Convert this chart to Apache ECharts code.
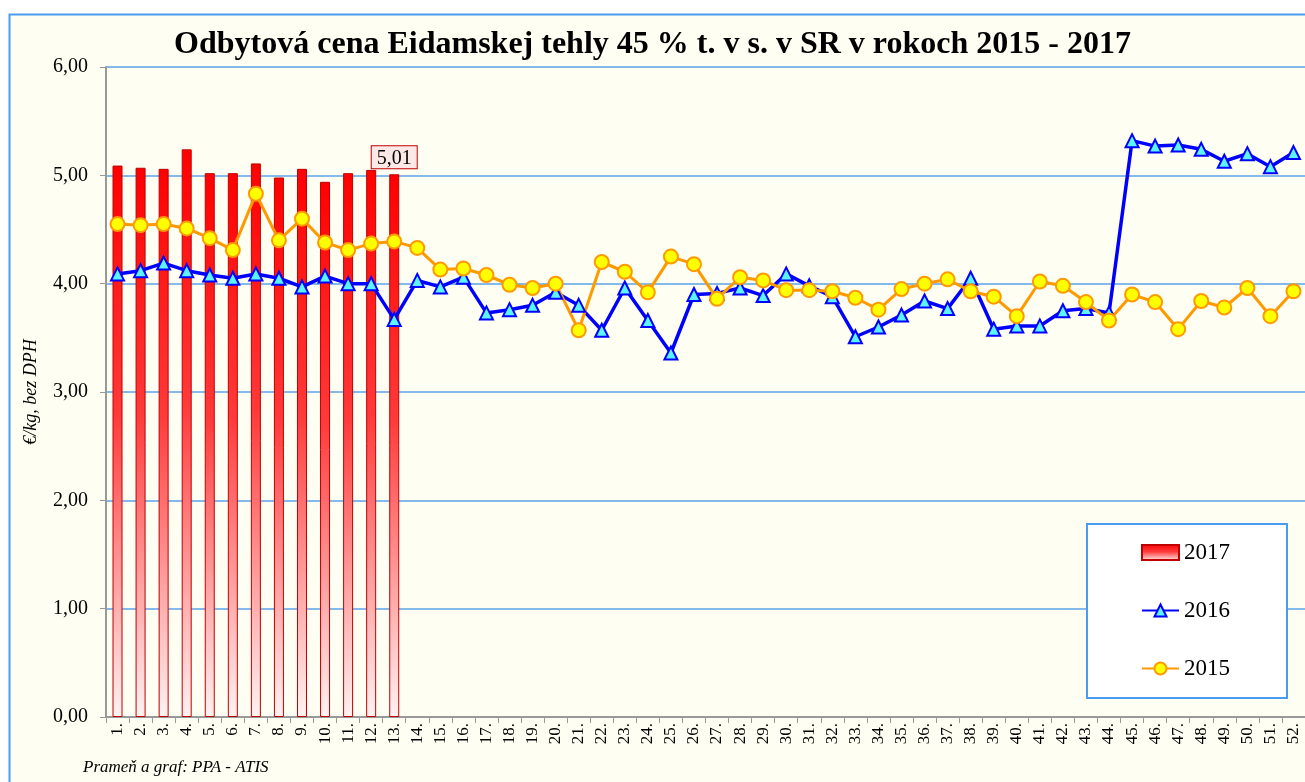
<!DOCTYPE html>
<html>
<head>
<meta charset="utf-8">
<title>Odbytová cena Eidamskej tehly</title>
<script src="https://cdn.jsdelivr.net/npm/echarts@6/dist/echarts.min.js"></script>
<style>
  html, body { margin: 0; padding: 0; background: #fff; }
  #chart { width: 1305px; height: 782px; }
</style>
</head>
<body>
<div id="chart"></div>
<script>
// Weekly data, €/kg without VAT
const weeks = Array.from({ length: 52 }, (_, i) => `${i + 1}.`);

const price2017 = [5.09, 5.07, 5.06, 5.24, 5.02, 5.02, 5.11, 4.98, 5.06, 4.94, 5.02, 5.05, 5.01];

const price2016 = [4.09, 4.12, 4.19, 4.12, 4.08, 4.05, 4.09, 4.05, 3.97, 4.07,
  4.00, 4.00, 3.67, 4.03, 3.97, 4.06, 3.73, 3.76, 3.80, 3.92,
  3.80, 3.57, 3.96, 3.66, 3.36, 3.90, 3.91, 3.96, 3.89, 4.09,
  3.98, 3.88, 3.51, 3.60, 3.71, 3.84, 3.77, 4.05, 3.58, 3.61,
  3.61, 3.75, 3.77, 3.73, 5.32, 5.27, 5.28, 5.24, 5.13, 5.20,
  5.08, 5.21];

const price2015 = [4.55, 4.54, 4.55, 4.51, 4.42, 4.31, 4.83, 4.40, 4.60, 4.38,
  4.31, 4.37, 4.39, 4.33, 4.13, 4.14, 4.08, 3.99, 3.96, 4.00,
  3.57, 4.20, 4.11, 3.92, 4.25, 4.18, 3.86, 4.06, 4.03, 3.94,
  3.94, 3.93, 3.87, 3.76, 3.95, 4.00, 4.04, 3.93, 3.88, 3.70,
  4.02, 3.98, 3.83, 3.66, 3.90, 3.83, 3.58, 3.84, 3.78, 3.96,
  3.70, 3.93];

const SERIF = "'Liberation Serif', 'Times New Roman', serif";
const fmt = v => v.toFixed(2).replace('.', ',');

// only the latest week gets a value label
const barData = price2017.map((v, i) => i === price2017.length - 1 ? {
  value: v,
  label: {
    show: true, position: 'top', distance: 6,
    formatter: p => fmt(p.value),
    fontFamily: SERIF, fontSize: 20, color: '#000',
    backgroundColor: '#fde8e8', borderColor: '#c00000', borderWidth: 1,
    padding: [2, 5, 0, 5]
  }
} : v);

const chart = echarts.init(document.getElementById('chart'), null, { renderer: 'canvas' });

chart.setOption({
  animation: false,
  backgroundColor: '#fff',
  graphic: [
    {
      type: 'rect', z: -10, silent: true,
      shape: { x: 9.5, y: 14.5, width: 1310, height: 790 },
      style: { fill: '#fefef2', stroke: '#4a9cf0', lineWidth: 2 }
    },
    {
      type: 'text', left: 83, top: 759, z: 5,
      style: { text: 'Prameň a graf: PPA - ATIS', font: `italic 17px ${SERIF}`, fill: '#000' }
    }
  ],
  title: {
    text: 'Odbytová cena Eidamskej tehly 45 % t. v s. v SR v rokoch 2015 - 2017',
    left: 'center', top: 24,
    textStyle: { fontFamily: SERIF, fontSize: 32, fontWeight: 'bold', color: '#000' }
  },
  legend: {
    orient: 'vertical',
    left: 1087, top: 524,
    padding: [17, 57, 18, 54],
    backgroundColor: '#fff',
    borderColor: '#4a9cf0', borderWidth: 2,
    itemWidth: 37, itemHeight: 15, itemGap: 35,
    textStyle: { fontFamily: SERIF, fontSize: 23, color: '#000' },
    data: [{ name: '2017', icon: 'rect' }, '2016', '2015']
  },
  grid: { left: 106, top: 67, width: 1201, height: 650, show: true, backgroundColor: '#fefef2', borderWidth: 0 },
  xAxis: {
    type: 'category',
    data: weeks,
    axisLine: { lineStyle: { color: '#999', width: 2 } },
    axisTick: { show: true, length: 6, lineStyle: { color: '#999' } },
    axisLabel: { rotate: 90, interval: 0, fontFamily: SERIF, fontSize: 17, color: '#000', margin: 6 }
  },
  yAxis: {
    type: 'value',
    min: 0, max: 6, interval: 1,
    name: '€/kg, bez DPH',
    nameLocation: 'middle', nameGap: 66,
    nameTextStyle: { fontFamily: SERIF, fontSize: 18, fontStyle: 'italic', color: '#000' },
    axisLine: { show: true, lineStyle: { color: '#999', width: 2 } },
    axisTick: { show: true, length: 6, lineStyle: { color: '#999' } },
    axisLabel: { formatter: fmt, fontFamily: SERIF, fontSize: 20, color: '#000', margin: 18 },
    splitLine: { lineStyle: { color: '#5aa2e8', width: 1.5 } }
  },
  series: [
    {
      name: '2017', type: 'bar', data: barData,
      barWidth: 10,
      itemStyle: {
        color: new echarts.graphic.LinearGradient(0, 0, 0, 1, [
          { offset: 0, color: '#ff0000' },
          { offset: 0.45, color: '#ff3a3a' },
          { offset: 1, color: '#fff2f2' }
        ]),
        borderColor: '#c00000', borderWidth: 1
      }
    },
    {
      name: '2016', type: 'line', data: price2016,
      symbol: 'triangle', symbolSize: 13,
      lineStyle: { color: '#0000ff', width: 3.5 },
      itemStyle: { color: '#5cf4ff', borderColor: '#0000ff', borderWidth: 2 }
    },
    {
      name: '2015', type: 'line', data: price2015,
      symbol: 'circle', symbolSize: 14,
      lineStyle: { color: '#ff9900', width: 3 },
      itemStyle: { color: '#ffff00', borderColor: '#ff9900', borderWidth: 2 }
    }
  ]
});
</script>
</body>
</html>
